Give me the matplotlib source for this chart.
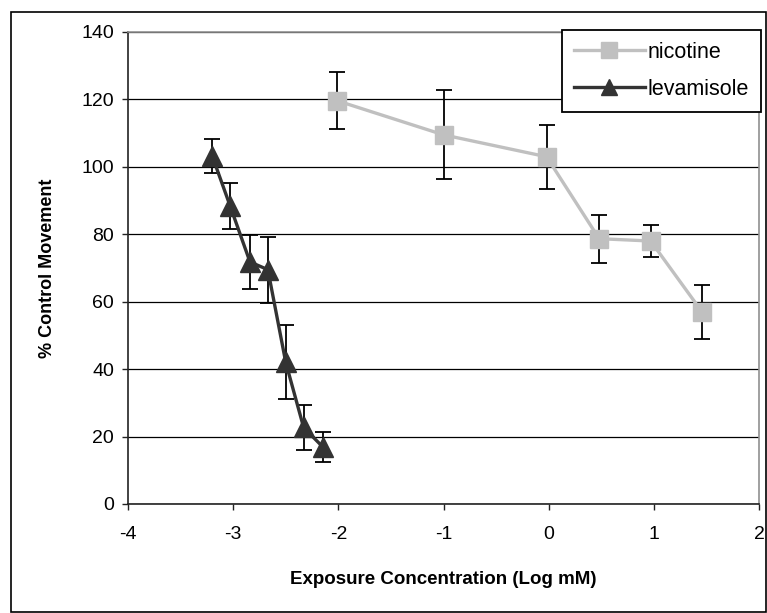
import matplotlib
matplotlib.use('Agg')
import matplotlib.pyplot as plt
from matplotlib.patches import Rectangle
from matplotlib.lines import Line2D

plt.rcParams['font.family'] = ['Liberation Sans', 'DejaVu Sans']
plt.rcParams['axes.unicode_minus'] = False

# nicotine series
nic_x = [-2.01, -1.0, -0.02, 0.48, 0.97, 1.46]
nic_y = [119.6, 109.5, 103.0, 78.7, 78.0, 56.9]
nic_err = [8.5, 13.2, 9.5, 7.1, 4.8, 8.0]

# levamisole series
lev_x = [-3.2, -3.03, -2.84, -2.67, -2.5, -2.33, -2.15]
lev_y = [103.3, 88.5, 71.8, 69.5, 42.0, 22.7, 17.0]
lev_err = [5.0, 6.8, 8.0, 9.8, 11.0, 6.7, 4.5]

yticks = [0, 20, 40, 60, 80, 100, 120, 140]
xticks = [-4, -3, -2, -1, 0, 1, 2]

NIC_COLOR = '#c0c0c0'
LEV_COLOR = '#333333'


def main():
    fig = plt.figure(figsize=(7.67, 6.13), dpi=100)
    ax = fig.add_axes([128 / 767, 1 - 504 / 613, 631 / 767, 472 / 613])

    # outer chart border
    fig.patches.append(Rectangle((11 / 767, 1 - 612 / 613), 755 / 767, 600 / 613,
                                 transform=fig.transFigure, fill=False,
                                 edgecolor='black', linewidth=1.2))

    ebkw = dict(ecolor='black', elinewidth=1.3, capsize=5.5, capthick=1.3)
    ax.errorbar(nic_x, nic_y, yerr=nic_err, color=NIC_COLOR, linewidth=2.4,
                marker='s', markersize=13.5, zorder=3, **ebkw)
    ax.errorbar(lev_x, lev_y, yerr=lev_err, color=LEV_COLOR, linewidth=2.4,
                marker='^', markersize=14, zorder=4, **ebkw)

    ax.set_xlim(-4, 2)
    ax.set_ylim(0, 140)
    ax.set_xticks(xticks)
    ax.set_yticks(yticks)
    ax.yaxis.grid(True, color='black', linewidth=0.9)
    ax.set_axisbelow(True)

    for s in ('top', 'right'):
        ax.spines[s].set_color('#909090')
        ax.spines[s].set_linewidth(1.2)
    for s in ('left', 'bottom'):
        ax.spines[s].set_color('#222222')
        ax.spines[s].set_linewidth(1.2)

    ax.tick_params(axis='both', direction='out', length=4, width=1,
                   labelsize=14, color='#222222')
    ax.tick_params(axis='x', pad=12)
    ax.tick_params(axis='y', pad=6)

    ax.set_xlabel('Exposure Concentration (Log mM)', fontsize=13.5,
                  fontweight='bold', labelpad=20)
    ax.set_ylabel('% Control Movement', fontsize=13, fontweight='bold',
                  labelpad=18)

    # legend shows line + marker only, no error bars
    handles = [
        Line2D([], [], color=NIC_COLOR, linewidth=2.4, marker='s',
               markersize=11),
        Line2D([], [], color=LEV_COLOR, linewidth=2.4, marker='^',
               markersize=12),
    ]
    leg = ax.legend(handles, ['nicotine', 'levamisole'], loc='upper right',
                    bbox_to_anchor=(761 / 767, 1 - 30 / 613),
                    bbox_transform=fig.transFigure, borderaxespad=0,
                    fancybox=False, framealpha=1, edgecolor='black',
                    fontsize=15.5, handlelength=3.3, handletextpad=0.15,
                    labelspacing=0.75, borderpad=0.55)
    leg.get_frame().set_linewidth(1.3)

    fig.savefig('out.png', dpi=100)


if __name__ == '__main__':
    main()
